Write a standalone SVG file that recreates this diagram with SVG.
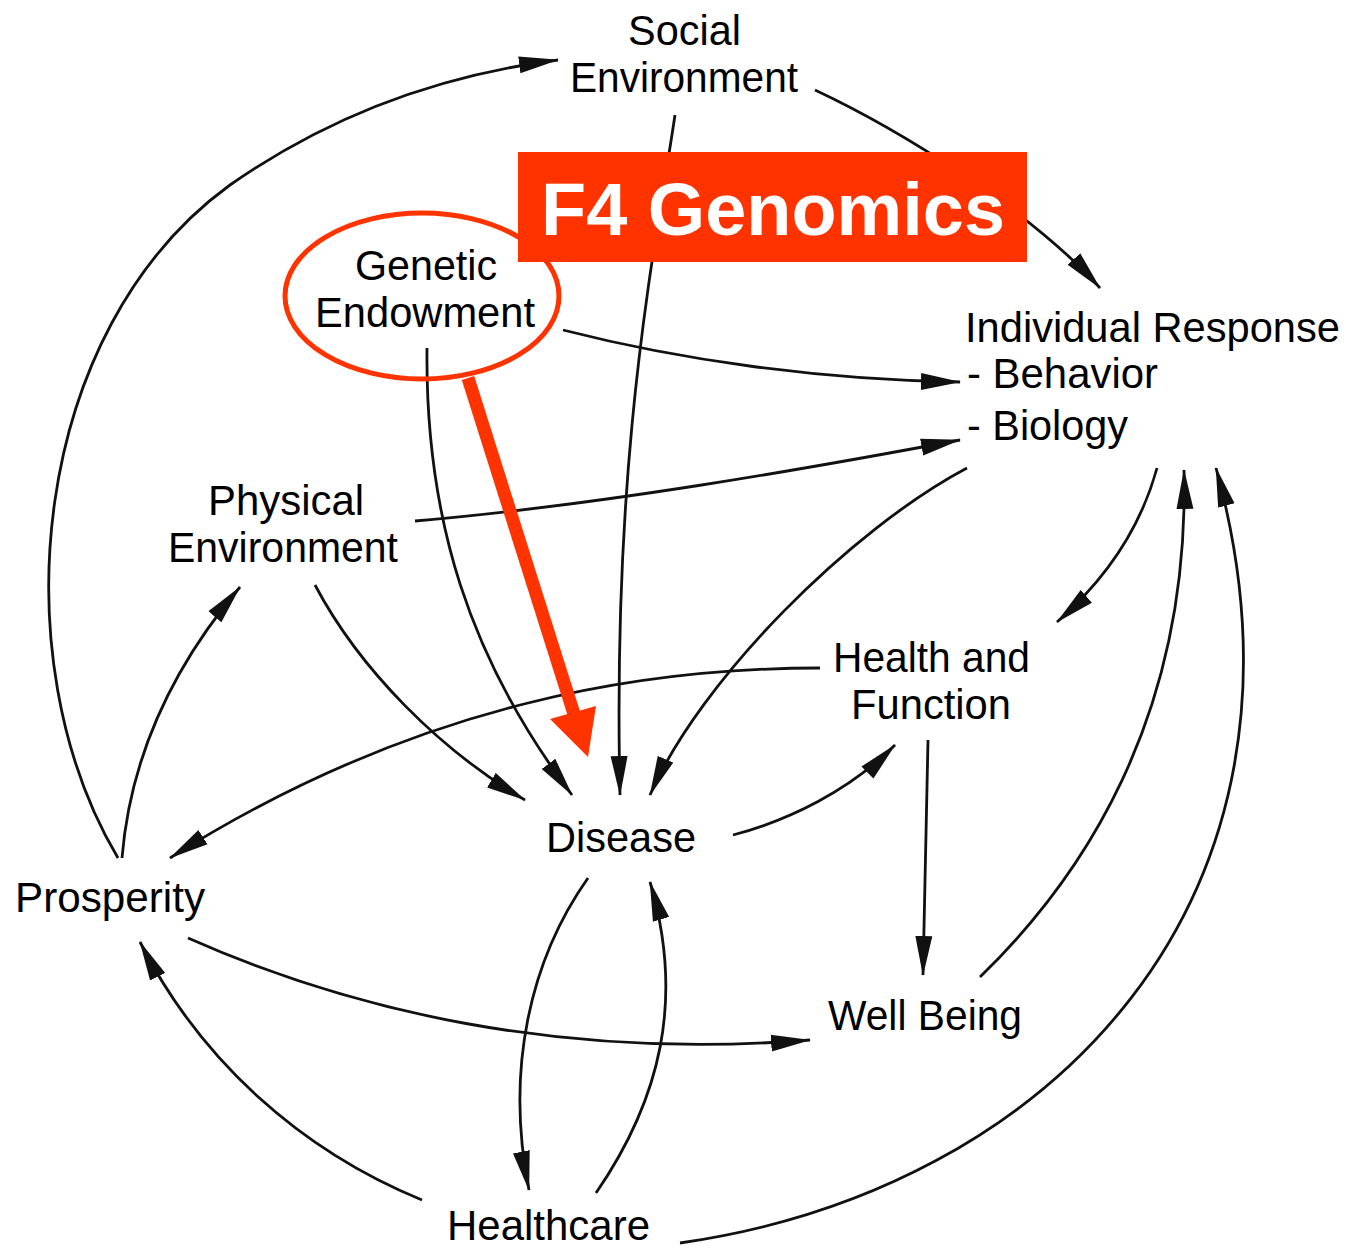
<svg xmlns="http://www.w3.org/2000/svg" width="1346" height="1248" viewBox="0 0 1346 1248">
<style>
.lbl{font-family:"Liberation Sans",Arial,sans-serif;font-size:42px;fill:#000}
.c{fill:none;stroke:#111;stroke-width:2.8;marker-end:url(#ah)}
.red{fill:#FF3300}
</style>
<defs>
<marker id="ah" markerUnits="userSpaceOnUse" markerWidth="40" markerHeight="18" viewBox="0 0 40 18" refX="39" refY="9" orient="auto">
<path d="M0,0.5 L40,9 L0,17.5 Z" fill="#111"/>
</marker>
</defs>
<rect width="1346" height="1248" fill="#fff"/>
<g id="connectors">
<path class="c" d="M118,858 C0,660 30,330 230,185 C330,115 440,75 558,60"/>
<path class="c" d="M815,90 C900,130 1030,210 1100,288"/>
<path class="c" d="M675,115 C655,250 612,450 620,795"/>
<path class="c" d="M563,330 C680,360 820,380 960,382"/>
<path class="c" d="M427,348 C425,520 470,660 572,795"/>
<path class="c" d="M415,521 C600,505 800,470 960,440"/>
<path class="c" d="M967,468 C850,530 700,680 650,795"/>
<path class="c" d="M315,585 C360,670 440,750 525,800"/>
<path class="c" d="M820,668 C650,668 420,700 170,858"/>
<path class="c" d="M122,858 C130,760 170,670 240,587"/>
<path class="c" d="M733,835 C790,820 850,790 895,745"/>
<path class="c" d="M1157,468 C1140,530 1105,580 1057,622"/>
<path class="c" d="M928,740 L923,975"/>
<path class="c" d="M980,977 C1080,880 1190,720 1184,470"/>
<path class="c" d="M680,1243 C1050,1190 1335,900 1216,468"/>
<path class="c" d="M188,938 C350,1010 560,1060 810,1040"/>
<path class="c" d="M588,878 C530,960 505,1070 529,1190"/>
<path class="c" d="M596,1193 C660,1100 685,1000 650,882"/>
<path class="c" d="M422,1200 C300,1150 200,1060 140,942"/>
</g>
<g id="social-environment">
<text class="lbl" x="628" y="45" textLength="113" lengthAdjust="spacingAndGlyphs">Social</text>
<text class="lbl" x="570" y="92" textLength="228" lengthAdjust="spacingAndGlyphs">Environment</text>
</g>
<g id="genetic-endowment">
<text class="lbl" x="355" y="280" textLength="142" lengthAdjust="spacingAndGlyphs">Genetic</text>
<text class="lbl" x="315" y="327" textLength="220" lengthAdjust="spacingAndGlyphs">Endowment</text>
</g>
<g id="individual-response">
<text class="lbl" x="965" y="342" textLength="375" lengthAdjust="spacingAndGlyphs">Individual Response</text>
<text class="lbl" x="967" y="388" textLength="191" lengthAdjust="spacingAndGlyphs">- Behavior</text>
<text class="lbl" x="967" y="440" textLength="161" lengthAdjust="spacingAndGlyphs">- Biology</text>
</g>
<g id="physical-environment">
<text class="lbl" x="208" y="515" textLength="156" lengthAdjust="spacingAndGlyphs">Physical</text>
<text class="lbl" x="168" y="562" textLength="230" lengthAdjust="spacingAndGlyphs">Environment</text>
</g>
<g id="health-and-function">
<text class="lbl" x="833" y="672" textLength="197" lengthAdjust="spacingAndGlyphs">Health and</text>
<text class="lbl" x="851" y="719" textLength="160" lengthAdjust="spacingAndGlyphs">Function</text>
</g>
<g id="disease">
<text class="lbl" x="546" y="852" textLength="150" lengthAdjust="spacingAndGlyphs">Disease</text>
</g>
<g id="prosperity">
<text class="lbl" x="15" y="912" textLength="190" lengthAdjust="spacingAndGlyphs">Prosperity</text>
</g>
<g id="well-being">
<text class="lbl" x="828" y="1030" textLength="194" lengthAdjust="spacingAndGlyphs">Well Being</text>
</g>
<g id="healthcare">
<text class="lbl" x="447" y="1240" textLength="203" lengthAdjust="spacingAndGlyphs">Healthcare</text>
</g>
<g id="f4-annotation">
<ellipse cx="422" cy="296" rx="137" ry="83" fill="none" stroke="#FF3300" stroke-width="5"/>
<line x1="468" y1="378" x2="574" y2="714" stroke="#FF3300" stroke-width="13"/>
<polygon class="red" points="588,757 550,719 596,706"/>
<rect class="red" x="518" y="152" width="509" height="110"/>
<text x="541" y="235" font-family="'Liberation Sans',Arial,Helvetica,sans-serif" font-weight="bold" font-size="74" fill="#fff" textLength="464" lengthAdjust="spacingAndGlyphs">F4 Genomics</text>
</g>
</svg>
